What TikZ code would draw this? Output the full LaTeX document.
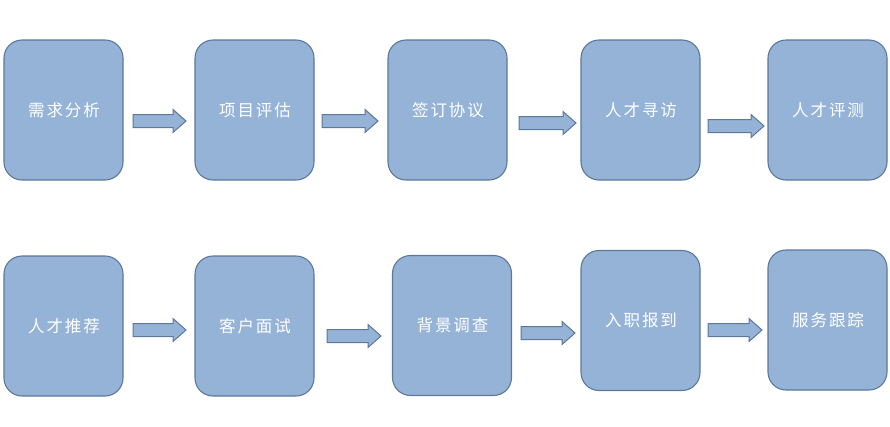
\documentclass[tikz,border=0pt]{standalone}
\usepackage{fontspec}
\newfontfamily\cjk[LetterSpace=12]{Noto Sans CJK SC}
\definecolor{boxfill}{RGB}{149,179,215}
\definecolor{boxline}{RGB}{92,120,155}
\tikzset{
  stepbox/.style={draw=boxline, fill=boxfill, line width=1.1pt, rounded corners=18pt,
    minimum width=119pt, minimum height=140pt, inner sep=0pt,
    text=white, font=\cjk\fontsize{16.5}{19}\selectfont},
  blockarrow/.style={draw=boxline, fill=boxfill, line width=1pt, line join=miter}
}
\newcommand\blockarr[3]{%
  \draw[blockarrow] (#1,#3-6.5) -- (#2-13,#3-6.5) -- (#2-13,#3-11.5) -- (#2,#3)
    -- (#2-13,#3+11.5) -- (#2-13,#3+6.5) -- (#1,#3+6.5) -- cycle;}
\begin{document}
\begin{tikzpicture}[x=1pt,y=-1pt]
\useasboundingbox (0,0) rectangle (890,426);
\node[stepbox] (b1) at (63.5,110) {\hspace{1pt}需求分析};
\node[stepbox] (b2) at (254.5,110) {\hspace{1pt}项目评估};
\node[stepbox] (b3) at (447.5,110) {\hspace{1pt}签订协议};
\node[stepbox] (b4) at (640.5,110) {\hspace{1pt}人才寻访};
\node[stepbox] (b5) at (827.5,110) {\hspace{1pt}人才评测};
\node[stepbox] (c1) at (63.5,326) {\hspace{1pt}人才推荐};
\node[stepbox] (c2) at (254.5,326) {\hspace{1pt}客户面试};
\node[stepbox] (c3) at (452,325.5) {\hspace{1pt}背景调查};
\node[stepbox] (c4) at (640.5,320.5) {\hspace{1pt}入职报到};
\node[stepbox] (c5) at (827.5,320) {\hspace{1pt}服务跟踪};
\blockarr{133}{186}{121}
\blockarr{322}{378}{121}
\blockarr{519}{576}{123}
\blockarr{708}{764}{126}
\blockarr{133}{186}{330}
\blockarr{327}{381}{336}
\blockarr{521}{575}{333}
\blockarr{708}{762}{330}
\end{tikzpicture}
\end{document}
